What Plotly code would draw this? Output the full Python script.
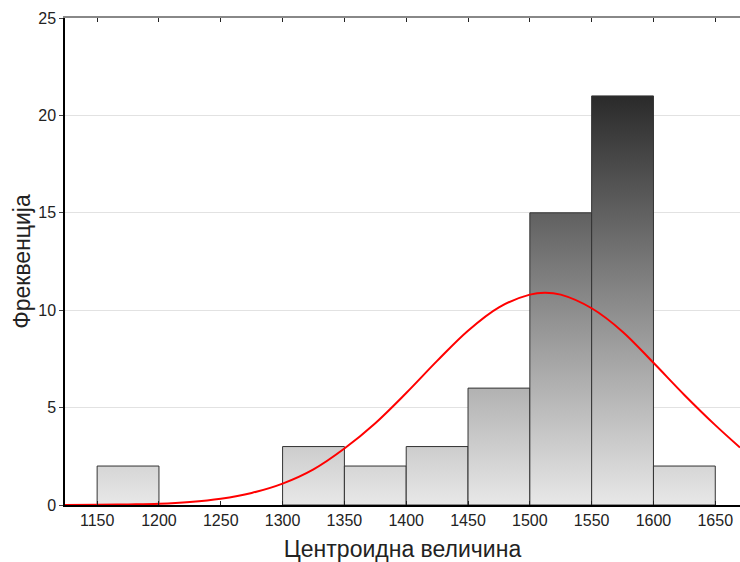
import plotly.graph_objects as go

# Histogram bins (lower edge, upper edge) and frequencies
bin_left = [1150, 1200, 1250, 1300, 1350, 1400, 1450, 1500, 1550, 1600]
bin_right = [1200, 1250, 1300, 1350, 1400, 1450, 1500, 1550, 1600, 1650]
freq = [2, 0, 0, 3, 2, 3, 6, 15, 21, 2]

# Fitted normal curve
curve_x = [1124, 1150, 1175, 1200, 1225, 1250, 1275, 1300, 1325, 1350, 1375, 1400,
           1425, 1450, 1475, 1500, 1512, 1525, 1550, 1575, 1600, 1625, 1650, 1670]
curve_y = [0.0, 0.01, 0.03, 0.06, 0.15, 0.32, 0.62, 1.1, 1.83, 2.9, 4.2, 5.75,
           7.4, 8.95, 10.15, 10.8, 10.9, 10.8, 10.1, 8.9, 7.3, 5.65, 4.1, 2.95]

x_ticks = [1150, 1200, 1250, 1300, 1350, 1400, 1450, 1500, 1550, 1600, 1650]
y_ticks = [0, 5, 10, 15, 20, 25]

fig = go.Figure()

for x0, x1, h in zip(bin_left, bin_right, freq):
    if h <= 0:
        continue
    fig.add_trace(go.Scatter(
        x=[x0, x0, x1, x1, x0], y=[0, h, h, 0, 0],
        mode="lines", fill="toself",
        line=dict(color="#333333", width=1),
        fillgradient=dict(type="vertical", colorscale=[[0, "#e8e8e8"], [1, "#2a2a2a"]],
                          start=0, stop=21),
        hoverinfo="skip", showlegend=False,
    ))

fig.add_trace(go.Scatter(
    x=curve_x, y=curve_y, mode="lines", line=dict(color="#ff0000", width=2, shape="spline"),
    showlegend=False,
))

# invisible trace for the top mirror axis
fig.add_trace(go.Scatter(x=[x_ticks[0]], y=[0], xaxis="x2", mode="markers",
                         marker=dict(opacity=0), showlegend=False, hoverinfo="skip"))

font = "Liberation Sans, Arial, sans-serif"
fig.update_layout(
    width=740, height=562,
    margin=dict(l=65, r=0, t=18, b=57, pad=0),
    plot_bgcolor="white", paper_bgcolor="white",
    font=dict(family=font, color="#222222"),
    xaxis=dict(
        range=[1124, 1670], tickvals=x_ticks, ticktext=[str(v) for v in x_ticks],
        ticks="inside", ticklen=4, tickcolor="#222", showline=True, linecolor="#000",
        linewidth=1.5, showgrid=False, zeroline=False, automargin=False,
        tickfont=dict(size=16, family=font),
        title=dict(text="Центроидна величина", font=dict(size=23, family=font)),
    ),
    xaxis2=dict(
        overlaying="x", side="top", matches="x", range=[1124, 1670], tickvals=x_ticks,
        showticklabels=False, ticks="inside", ticklen=4, tickcolor="#222",
        showline=True, linecolor="#888888", linewidth=2, showgrid=False, zeroline=False,
        automargin=False,
    ),
    yaxis=dict(
        range=[0, 25], tickvals=y_ticks, ticks="outside", ticklen=4, tickcolor="#444",
        showline=True, linecolor="#000", linewidth=1.5, showgrid=True,
        gridcolor="#e2e2e2", gridwidth=1, zeroline=False, automargin=False,
        tickfont=dict(size=16, family=font),
        title=dict(text="Фреквенција", font=dict(size=23, family=font), standoff=1),
    ),
)

fig.write_html("out.html", post_script="document.body.style.margin='0';",
               config={"displayModeBar": False})
